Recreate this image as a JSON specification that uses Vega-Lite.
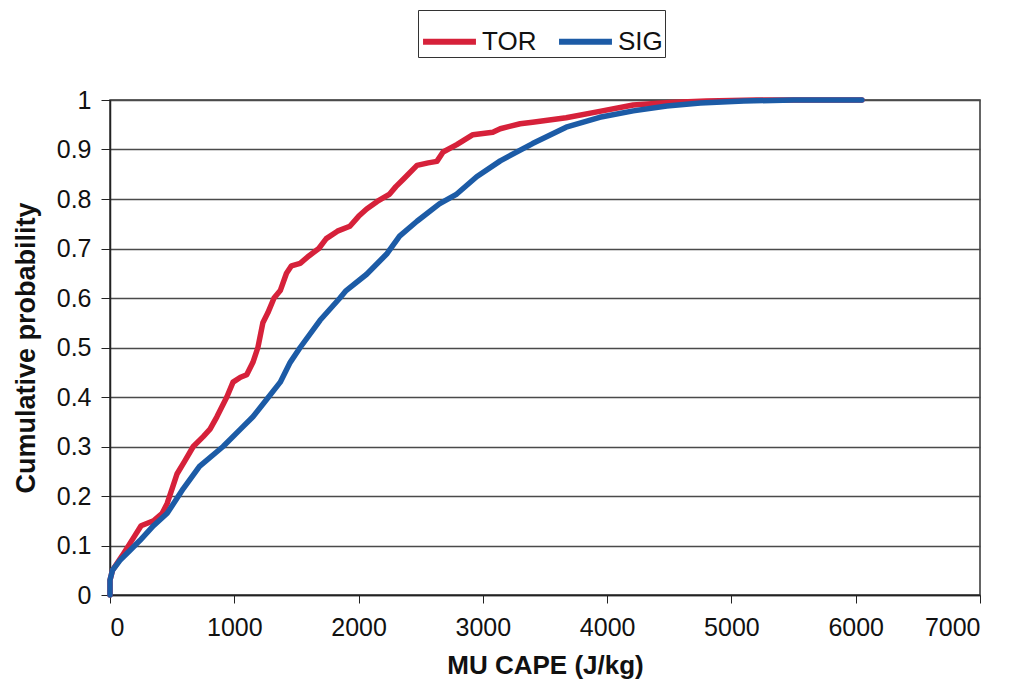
{
  "$schema": "https://vega.github.io/schema/vega-lite/v6.json",
  "width": 870,
  "height": 495,
  "autosize": "none",
  "padding": {"left": 110, "top": 100, "right": 30, "bottom": 95},
  "background": "white",
  "config": {
    "font": "Liberation Sans",
    "view": {"stroke": "#333333", "strokeWidth": 1.5}
  },
  "datasets": {
    "cdf": [
      {"i": 0, "series": "TOR", "cape": 0, "p": 0},
      {"i": 1, "series": "TOR", "cape": 0, "p": 0.03},
      {"i": 2, "series": "TOR", "cape": 20, "p": 0.05},
      {"i": 3, "series": "TOR", "cape": 100, "p": 0.08},
      {"i": 4, "series": "TOR", "cape": 200, "p": 0.12},
      {"i": 5, "series": "TOR", "cape": 250, "p": 0.14},
      {"i": 6, "series": "TOR", "cape": 300, "p": 0.145},
      {"i": 7, "series": "TOR", "cape": 350, "p": 0.15},
      {"i": 8, "series": "TOR", "cape": 420, "p": 0.165},
      {"i": 9, "series": "TOR", "cape": 460, "p": 0.185},
      {"i": 10, "series": "TOR", "cape": 500, "p": 0.215},
      {"i": 11, "series": "TOR", "cape": 540, "p": 0.245},
      {"i": 12, "series": "TOR", "cape": 600, "p": 0.27},
      {"i": 13, "series": "TOR", "cape": 670, "p": 0.3},
      {"i": 14, "series": "TOR", "cape": 750, "p": 0.32},
      {"i": 15, "series": "TOR", "cape": 805, "p": 0.335},
      {"i": 16, "series": "TOR", "cape": 860, "p": 0.36},
      {"i": 17, "series": "TOR", "cape": 940, "p": 0.4},
      {"i": 18, "series": "TOR", "cape": 990, "p": 0.43},
      {"i": 19, "series": "TOR", "cape": 1050, "p": 0.44},
      {"i": 20, "series": "TOR", "cape": 1100, "p": 0.445},
      {"i": 21, "series": "TOR", "cape": 1150, "p": 0.47},
      {"i": 22, "series": "TOR", "cape": 1190, "p": 0.5},
      {"i": 23, "series": "TOR", "cape": 1230, "p": 0.55},
      {"i": 24, "series": "TOR", "cape": 1270, "p": 0.57},
      {"i": 25, "series": "TOR", "cape": 1320, "p": 0.6},
      {"i": 26, "series": "TOR", "cape": 1370, "p": 0.615},
      {"i": 27, "series": "TOR", "cape": 1420, "p": 0.65},
      {"i": 28, "series": "TOR", "cape": 1460, "p": 0.665},
      {"i": 29, "series": "TOR", "cape": 1530, "p": 0.67},
      {"i": 30, "series": "TOR", "cape": 1600, "p": 0.685},
      {"i": 31, "series": "TOR", "cape": 1680, "p": 0.7},
      {"i": 32, "series": "TOR", "cape": 1740, "p": 0.72},
      {"i": 33, "series": "TOR", "cape": 1830, "p": 0.735},
      {"i": 34, "series": "TOR", "cape": 1930, "p": 0.745},
      {"i": 35, "series": "TOR", "cape": 2000, "p": 0.765},
      {"i": 36, "series": "TOR", "cape": 2065, "p": 0.78},
      {"i": 37, "series": "TOR", "cape": 2150, "p": 0.795},
      {"i": 38, "series": "TOR", "cape": 2250, "p": 0.81},
      {"i": 39, "series": "TOR", "cape": 2300, "p": 0.825},
      {"i": 40, "series": "TOR", "cape": 2360, "p": 0.84},
      {"i": 41, "series": "TOR", "cape": 2470, "p": 0.868},
      {"i": 42, "series": "TOR", "cape": 2560, "p": 0.873},
      {"i": 43, "series": "TOR", "cape": 2630, "p": 0.876},
      {"i": 44, "series": "TOR", "cape": 2680, "p": 0.895},
      {"i": 45, "series": "TOR", "cape": 2790, "p": 0.91},
      {"i": 46, "series": "TOR", "cape": 2920, "p": 0.93},
      {"i": 47, "series": "TOR", "cape": 3080, "p": 0.935},
      {"i": 48, "series": "TOR", "cape": 3140, "p": 0.942},
      {"i": 49, "series": "TOR", "cape": 3300, "p": 0.952},
      {"i": 50, "series": "TOR", "cape": 3400, "p": 0.955},
      {"i": 51, "series": "TOR", "cape": 3670, "p": 0.964},
      {"i": 52, "series": "TOR", "cape": 3940, "p": 0.977},
      {"i": 53, "series": "TOR", "cape": 4210, "p": 0.99},
      {"i": 54, "series": "TOR", "cape": 4500, "p": 0.995},
      {"i": 55, "series": "TOR", "cape": 4800, "p": 0.998},
      {"i": 56, "series": "TOR", "cape": 5200, "p": 1.0},
      {"i": 57, "series": "TOR", "cape": 6050, "p": 1.0},
      {"i": 100, "series": "SIG", "cape": 0, "p": 0},
      {"i": 101, "series": "SIG", "cape": 0, "p": 0.03},
      {"i": 102, "series": "SIG", "cape": 20, "p": 0.05},
      {"i": 103, "series": "SIG", "cape": 80, "p": 0.07},
      {"i": 104, "series": "SIG", "cape": 160, "p": 0.09},
      {"i": 105, "series": "SIG", "cape": 240, "p": 0.11},
      {"i": 106, "series": "SIG", "cape": 350, "p": 0.14},
      {"i": 107, "series": "SIG", "cape": 460, "p": 0.165},
      {"i": 108, "series": "SIG", "cape": 590, "p": 0.215},
      {"i": 109, "series": "SIG", "cape": 720, "p": 0.26},
      {"i": 110, "series": "SIG", "cape": 910, "p": 0.3},
      {"i": 111, "series": "SIG", "cape": 1050, "p": 0.335},
      {"i": 112, "series": "SIG", "cape": 1150, "p": 0.36},
      {"i": 113, "series": "SIG", "cape": 1260, "p": 0.395},
      {"i": 114, "series": "SIG", "cape": 1370, "p": 0.43},
      {"i": 115, "series": "SIG", "cape": 1450, "p": 0.47},
      {"i": 116, "series": "SIG", "cape": 1530, "p": 0.5},
      {"i": 117, "series": "SIG", "cape": 1690, "p": 0.555},
      {"i": 118, "series": "SIG", "cape": 1850, "p": 0.6},
      {"i": 119, "series": "SIG", "cape": 1900, "p": 0.615},
      {"i": 120, "series": "SIG", "cape": 2065, "p": 0.648},
      {"i": 121, "series": "SIG", "cape": 2230, "p": 0.69},
      {"i": 122, "series": "SIG", "cape": 2330, "p": 0.725},
      {"i": 123, "series": "SIG", "cape": 2470, "p": 0.755},
      {"i": 124, "series": "SIG", "cape": 2650, "p": 0.79},
      {"i": 125, "series": "SIG", "cape": 2790, "p": 0.81},
      {"i": 126, "series": "SIG", "cape": 2950, "p": 0.845},
      {"i": 127, "series": "SIG", "cape": 3140, "p": 0.877},
      {"i": 128, "series": "SIG", "cape": 3400, "p": 0.912},
      {"i": 129, "series": "SIG", "cape": 3670, "p": 0.945},
      {"i": 130, "series": "SIG", "cape": 3940, "p": 0.965},
      {"i": 131, "series": "SIG", "cape": 4210, "p": 0.978},
      {"i": 132, "series": "SIG", "cape": 4480, "p": 0.988},
      {"i": 133, "series": "SIG", "cape": 4750, "p": 0.994},
      {"i": 134, "series": "SIG", "cape": 5100, "p": 0.998},
      {"i": 135, "series": "SIG", "cape": 5500, "p": 1.0},
      {"i": 136, "series": "SIG", "cape": 6050, "p": 1.0}
    ]
  },
  "data": {"name": "cdf"},
  "mark": {"type": "line", "strokeWidth": 5.5, "strokeCap": "round", "strokeJoin": "round", "interpolate": "linear"},
  "encoding": {
    "x": {
      "field": "cape",
      "type": "quantitative",
      "scale": {"domain": [0, 7000], "nice": false, "zero": true},
      "axis": {
        "title": "MU CAPE (J/kg)",
        "titleFontSize": 26,
        "titleFontWeight": "bold",
        "titleColor": "#111111",
        "titlePadding": 12,
        "values": [0, 1000, 2000, 3000, 4000, 5000, 6000, 7000],
        "format": "d",
        "labelFontSize": 25,
        "labelColor": "#111111",
        "labelPadding": 12,
        "tickSize": 8,
        "tickColor": "#222222",
        "domainColor": "#222222",
        "domainWidth": 1.5,
        "grid": false
      }
    },
    "y": {
      "field": "p",
      "type": "quantitative",
      "scale": {"domain": [0, 1], "nice": false},
      "axis": {
        "title": "Cumulative probability",
        "titleFontSize": 27,
        "titleFontWeight": "bold",
        "titleColor": "#111111",
        "titlePadding": 16,
        "values": [0, 0.1, 0.2, 0.3, 0.4, 0.5, 0.6, 0.7, 0.8, 0.9, 1],
        "format": ".1~f",
        "labelFontSize": 25,
        "labelColor": "#111111",
        "labelPadding": 10,
        "tickSize": 9,
        "tickColor": "#222222",
        "domainColor": "#222222",
        "domainWidth": 1.5,
        "grid": true,
        "gridColor": "#4a4a4a",
        "gridWidth": 1.3
      }
    },
    "color": {
      "field": "series",
      "type": "nominal",
      "scale": {"domain": ["TOR", "SIG"], "range": ["#d6213a", "#1c5ba6"]},
      "legend": {
        "title": null,
        "orient": "none",
        "legendX": 308,
        "legendY": -90,
        "direction": "horizontal",
        "symbolType": "stroke",
        "symbolSize": 2800,
        "symbolStrokeWidth": 6,
        "labelFontSize": 26,
        "labelColor": "#111111",
        "labelOffset": 3,
        "columnPadding": 10,
        "padding": 2,
        "strokeColor": "#333333",
        "fillColor": "white"
      }
    },
    "order": {"field": "i", "type": "quantitative"}
  }
}
